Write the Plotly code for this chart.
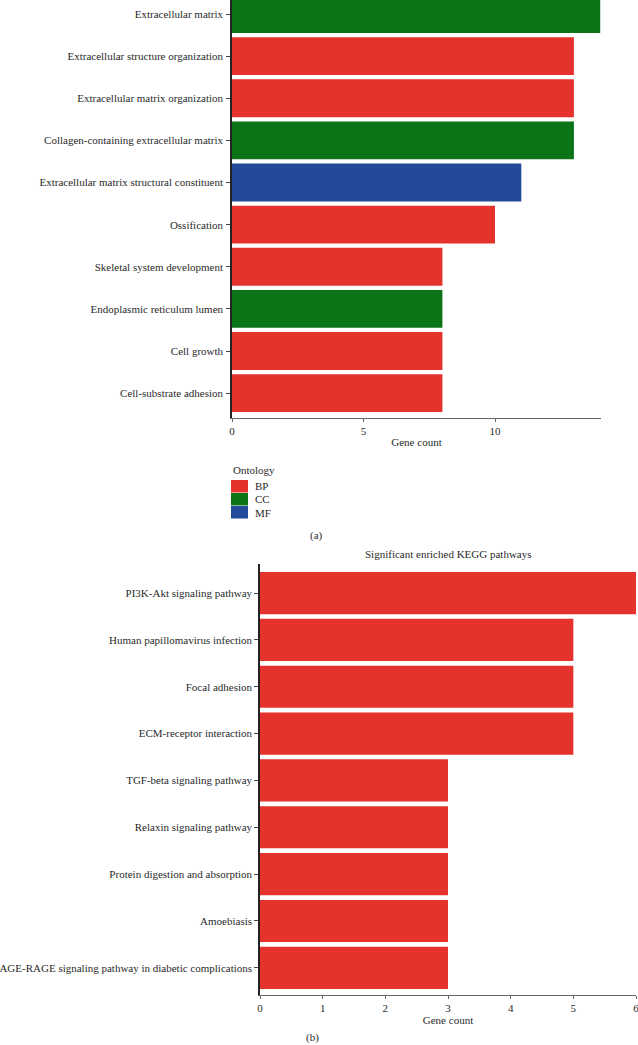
import plotly.graph_objects as go

# ---- Data: GO enrichment (panel a) ----
go_terms = [
    "Extracellular matrix",
    "Extracellular structure organization",
    "Extracellular matrix organization",
    "Collagen-containing extracellular matrix",
    "Extracellular matrix structural constituent",
    "Ossification",
    "Skeletal system development",
    "Endoplasmic reticulum lumen",
    "Cell growth",
    "Cell-substrate adhesion",
]
go_counts = [14, 13, 13, 13, 11, 10, 8, 8, 8, 8]
go_ontology = ["CC", "BP", "BP", "CC", "MF", "BP", "BP", "CC", "BP", "BP"]

ontologies = ["BP", "CC", "MF"]
ont_colors = {"BP": "#E5322D", "CC": "#0B7416", "MF": "#224A99"}

# ---- Data: KEGG enrichment (panel b) ----
kegg_terms = [
    "PI3K-Akt signaling pathway",
    "Human papillomavirus infection",
    "Focal adhesion",
    "ECM-receptor interaction",
    "TGF-beta signaling pathway",
    "Relaxin signaling pathway",
    "Protein digestion and absorption",
    "Amoebiasis",
    "AGE-RAGE signaling pathway in diabetic complications",
]
kegg_counts = [6, 5, 5, 5, 3, 3, 3, 3, 3]

top_xticks = [0, 5, 10]
bot_xticks = [0, 1, 2, 3, 4, 5, 6]

W, H = 638, 1045
FONT = "Liberation Serif"
TXT = "#2a2a2a"
FS = 11

fig = go.Figure()

for ont in ontologies:
    xs = [c for c, o in zip(go_counts, go_ontology) if o == ont]
    ys = [t for t, o in zip(go_terms, go_ontology) if o == ont]
    fig.add_trace(go.Bar(
        x=xs, y=ys, orientation="h", name=ont,
        marker=dict(color=ont_colors[ont], line=dict(width=0)),
        xaxis="x", yaxis="y", showlegend=False,
    ))

fig.add_trace(go.Bar(
    x=kegg_counts, y=kegg_terms, orientation="h", name="KEGG",
    marker=dict(color=ont_colors["BP"], line=dict(width=0)),
    xaxis="x2", yaxis="y2", showlegend=False,
))

def px_x(p):
    return p / W

def px_y(p):
    return 1 - p / H

axis_common = dict(
    showgrid=False, zeroline=False, automargin=False,
    tickfont=dict(family=FONT, size=FS, color=TXT),
    ticklabeloverflow="allow",
)

fig.update_layout(
    width=W, height=H,
    margin=dict(l=0, r=0, t=0, b=0),
    paper_bgcolor="white", plot_bgcolor="white",
    barmode="relative", bargap=0.1,
    font=dict(family=FONT, size=FS, color=TXT),
    xaxis=dict(
        **axis_common,
        domain=[px_x(232), px_x(601)], anchor="y",
        range=[0, 14.03], tickvals=top_xticks,
        showline=True, linecolor="#666", linewidth=1,
        ticks="outside", ticklen=3, tickcolor="#666",
        title=dict(text="Gene count", font=dict(family=FONT, size=FS, color=TXT), standoff=2),
    ),
    yaxis=dict(
        **axis_common,
        domain=[px_y(418), px_y(0)], anchor="x",
        type="category", categoryorder="array", categoryarray=go_terms,
        range=[9.59, -0.333],
        showline=True, linecolor="#222", linewidth=1.5,
        ticks="outside", ticklen=4, tickcolor="#444",
        ticklabelstandoff=1,
    ),
    xaxis2=dict(
        **axis_common,
        domain=[px_x(260), px_x(636)], anchor="y2",
        range=[0, 6], tickvals=bot_xticks,
        showline=True, linecolor="#666", linewidth=1,
        ticks="outside", ticklen=3, tickcolor="#666",
        title=dict(text="Gene count", font=dict(family=FONT, size=FS, color=TXT), standoff=2),
    ),
    yaxis2=dict(
        **axis_common,
        domain=[px_y(995), px_y(564)], anchor="x2",
        type="category", categoryorder="array", categoryarray=kegg_terms,
        range=[8.58, -0.62],
        showline=True, linecolor="#222", linewidth=1.5,
        ticks="outside", ticklen=4, tickcolor="#444",
        ticklabelstandoff=0,
    ),
)

# Legend for panel (a), drawn as swatches + labels
annotations = [
    dict(text="Ontology", x=px_x(231), y=px_y(470), xref="paper", yref="paper",
         xanchor="left", yanchor="middle", showarrow=False,
         font=dict(family=FONT, size=FS, color=TXT)),
]
shapes = []
sw_top = 480
sw_h = 13
for i, ont in enumerate(ontologies):
    y0 = sw_top + i * sw_h
    shapes.append(dict(type="rect", xref="paper", yref="paper",
                       x0=px_x(231), x1=px_x(248), y0=px_y(y0 + sw_h - 0.5), y1=px_y(y0),
                       fillcolor=ont_colors[ont], line=dict(width=0)))
    annotations.append(dict(text=ont, x=px_x(253), y=px_y(y0 + sw_h / 2), xref="paper", yref="paper",
                            xanchor="left", yanchor="middle", showarrow=False,
                            font=dict(family=FONT, size=FS, color=TXT)))

annotations += [
    dict(text="(a)", x=px_x(316), y=px_y(535), xref="paper", yref="paper",
         xanchor="center", yanchor="middle", showarrow=False,
         font=dict(family=FONT, size=FS, color=TXT)),
    dict(text="Significant enriched KEGG pathways", x=px_x(448), y=px_y(554),
         xref="paper", yref="paper", xanchor="center", yanchor="middle", showarrow=False,
         font=dict(family=FONT, size=FS, color=TXT)),
    dict(text="(b)", x=px_x(312), y=px_y(1037), xref="paper", yref="paper",
         xanchor="center", yanchor="middle", showarrow=False,
         font=dict(family=FONT, size=FS, color=TXT)),
]

fig.update_layout(annotations=annotations, shapes=shapes)

fig.write_html(
    "out.html",
    config={"displayModeBar": False},
    post_script="document.body.style.margin='0';document.body.style.padding='0';",
)
